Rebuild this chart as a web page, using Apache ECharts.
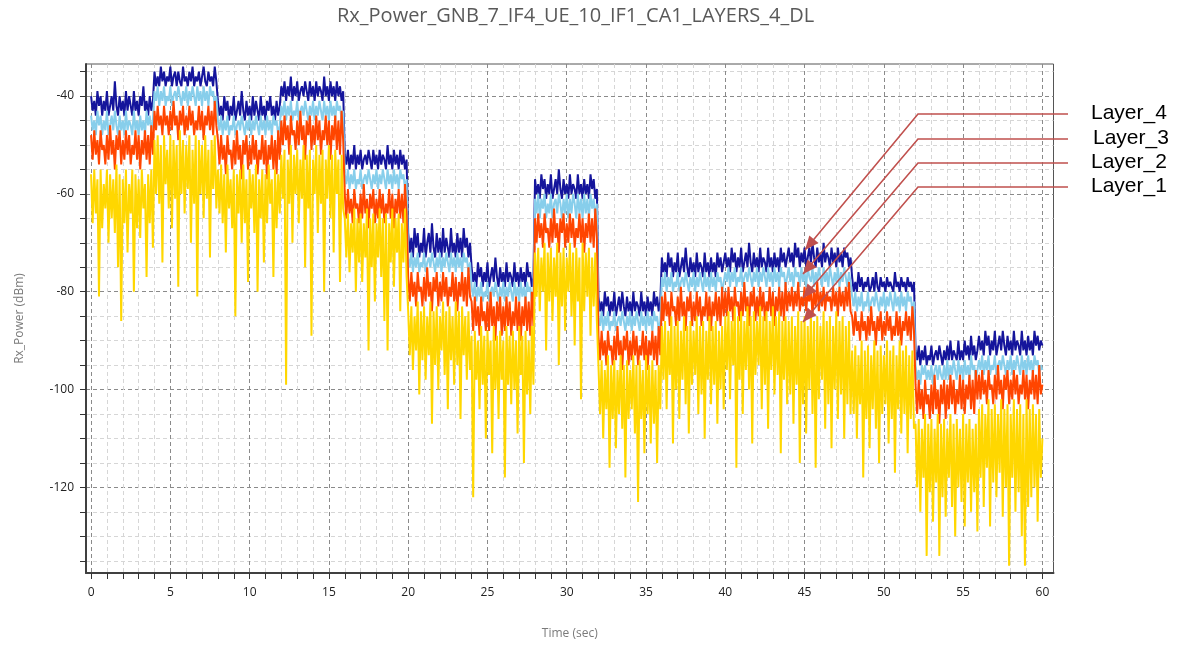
<!DOCTYPE html>
<html>
<head>
<meta charset="utf-8">
<title>Rx_Power_GNB_7_IF4_UE_10_IF1_CA1_LAYERS_4_DL</title>
<script src="https://cdn.jsdelivr.net/npm/echarts@6/dist/echarts.min.js"></script>
<style>
html, body { margin: 0; padding: 0; background: #fff; }
#chart { width: 1177px; height: 645px; }
</style>
</head>
<body>
<div id="chart"></div>
<script>
// sampling of the traces (sec)
var t0 = 0;
var dt = 0.1;

// Layer_4 (dBm), one row = 4 s
var layer4 = [
    -40,-43,-41,-44,-39,-42,-40,-44,-41,-43,-39,-44,-42,-40,-43,-37,-42,-44,-40,-43,-41,-44,-39,-43,-40,-42,-44,-39,-43,-41,-44,-40,-42,-38,-43,-41,-44,-40,-43,-41,
    -35,-38,-36,-38,-34,-37,-35,-38,-36,-37,-34,-38,-36,-35,-38,-35,-37,-38,-34,-37,-36,-38,-35,-37,-34,-38,-36,-37,-35,-38,-36,-34,-37,-38,-35,-37,-36,-38,-34,-37,
    -41,-44,-42,-45,-40,-43,-41,-45,-42,-44,-40,-45,-43,-41,-44,-39,-43,-45,-41,-44,-42,-45,-40,-44,-41,-43,-45,-40,-44,-42,-45,-41,-43,-40,-44,-42,-45,-41,-44,-42,
    -38,-40,-37,-41,-38,-40,-36,-41,-38,-40,-37,-41,-39,-38,-40,-37,-39,-41,-37,-40,-38,-41,-37,-40,-38,-39,-41,-36,-40,-38,-41,-37,-40,-38,-41,-37,-40,-38,-41,-39,
    -52,-54,-51,-55,-52,-54,-50,-55,-52,-54,-51,-55,-53,-52,-54,-51,-53,-55,-51,-54,-52,-55,-51,-54,-52,-53,-55,-50,-54,-52,-55,-51,-54,-52,-55,-51,-54,-52,-55,-53,
    -68,-72,-69,-73,-67,-71,-68,-73,-70,-72,-67,-73,-70,-68,-72,-66,-71,-73,-68,-72,-69,-73,-67,-72,-69,-71,-73,-67,-72,-70,-73,-68,-72,-69,-73,-67,-71,-69,-73,-70,
    -75,-78,-76,-79,-74,-77,-75,-79,-76,-78,-74,-79,-77,-75,-78,-73,-77,-79,-75,-78,-76,-79,-74,-78,-76,-77,-79,-74,-78,-76,-79,-75,-78,-76,-79,-74,-77,-76,-79,-77,
    -57,-60,-58,-61,-56,-59,-57,-61,-58,-60,-56,-61,-59,-57,-60,-55,-59,-61,-57,-60,-58,-61,-56,-60,-58,-59,-61,-56,-60,-58,-61,-57,-60,-58,-61,-56,-59,-57,-61,-59,
    -81,-84,-82,-85,-80,-83,-81,-85,-82,-84,-80,-85,-83,-81,-84,-80,-83,-85,-81,-84,-82,-85,-80,-84,-82,-83,-85,-80,-84,-82,-85,-81,-84,-82,-85,-80,-83,-81,-84,-82,
    -73,-76,-74,-77,-72,-75,-73,-77,-74,-76,-72,-77,-75,-73,-76,-71,-75,-77,-73,-76,-74,-77,-72,-76,-74,-75,-77,-72,-76,-74,-77,-73,-76,-74,-77,-72,-75,-73,-76,-74,
    -72,-75,-73,-76,-71,-74,-72,-76,-73,-75,-71,-76,-74,-72,-75,-70,-74,-76,-72,-75,-73,-76,-71,-75,-73,-74,-76,-71,-75,-73,-76,-72,-75,-73,-76,-71,-74,-72,-75,-73,
    -71,-74,-72,-75,-70,-73,-71,-75,-72,-74,-71,-75,-73,-71,-74,-70,-73,-75,-71,-74,-72,-75,-70,-74,-72,-73,-75,-71,-74,-72,-75,-71,-74,-72,-75,-71,-73,-72,-75,-73,
    -77,-80,-78,-80,-76,-79,-77,-80,-78,-79,-77,-80,-79,-77,-80,-76,-79,-80,-77,-79,-78,-80,-77,-79,-78,-79,-80,-76,-79,-78,-80,-77,-79,-78,-80,-77,-79,-78,-80,-78,
    -92,-94,-91,-95,-92,-94,-91,-95,-93,-94,-91,-95,-93,-92,-94,-91,-93,-95,-92,-94,-91,-94,-90,-94,-92,-93,-94,-90,-94,-92,-94,-90,-93,-91,-94,-89,-93,-91,-94,-92,
    -89,-92,-90,-93,-88,-91,-89,-93,-90,-92,-88,-93,-91,-89,-92,-88,-91,-93,-89,-92,-90,-93,-88,-92,-90,-91,-93,-88,-92,-90,-93,-89,-92,-90,-93,-88,-91,-89,-92,-90,-91
];

// Layer_3
var layer3 = [
    -44,-47,-45,-48,-43,-46,-44,-48,-45,-47,-43,-48,-46,-44,-47,-43,-46,-48,-44,-47,-45,-48,-43,-47,-45,-46,-48,-43,-47,-45,-48,-44,-47,-45,-48,-43,-46,-44,-47,-45,
    -39,-41,-38,-42,-39,-41,-38,-42,-40,-41,-38,-42,-40,-39,-41,-38,-40,-42,-39,-41,-38,-42,-39,-41,-38,-40,-42,-38,-41,-39,-42,-38,-41,-39,-42,-38,-40,-39,-42,-40,
    -45,-47,-44,-48,-45,-47,-44,-48,-46,-47,-44,-48,-46,-45,-47,-44,-46,-48,-45,-47,-44,-48,-45,-47,-44,-46,-48,-44,-47,-45,-48,-44,-47,-45,-48,-44,-46,-45,-48,-46,
    -42,-44,-41,-45,-42,-44,-41,-45,-43,-44,-41,-45,-43,-42,-44,-41,-43,-45,-42,-44,-41,-45,-42,-44,-41,-43,-45,-41,-44,-42,-45,-41,-44,-42,-45,-41,-43,-42,-45,-43,
    -56,-58,-55,-59,-56,-58,-55,-59,-57,-58,-55,-59,-57,-56,-58,-55,-57,-59,-56,-58,-55,-59,-56,-58,-55,-57,-59,-55,-58,-56,-59,-55,-58,-56,-59,-55,-57,-56,-59,-57,
    -73,-75,-72,-76,-73,-75,-72,-76,-74,-75,-72,-76,-74,-73,-75,-72,-74,-76,-73,-75,-72,-76,-73,-75,-72,-74,-76,-72,-75,-73,-76,-72,-75,-73,-76,-72,-74,-73,-76,-74,
    -79,-81,-78,-82,-79,-81,-78,-82,-80,-81,-78,-82,-80,-79,-81,-78,-80,-82,-79,-81,-78,-82,-79,-81,-78,-80,-82,-78,-81,-79,-82,-78,-81,-79,-82,-78,-80,-79,-82,-80,
    -61,-64,-60,-65,-61,-63,-60,-65,-62,-64,-60,-65,-62,-61,-64,-60,-62,-65,-61,-64,-60,-65,-61,-64,-60,-62,-65,-60,-64,-61,-65,-60,-64,-61,-65,-60,-63,-61,-65,-62,
    -85,-87,-84,-88,-85,-87,-84,-88,-86,-87,-84,-88,-86,-85,-87,-84,-86,-88,-85,-87,-84,-88,-85,-87,-84,-86,-88,-84,-87,-85,-88,-84,-87,-85,-88,-84,-86,-85,-88,-86,
    -77,-79,-76,-80,-77,-79,-76,-80,-78,-79,-76,-80,-78,-77,-79,-76,-78,-80,-77,-79,-76,-80,-77,-79,-76,-78,-80,-76,-79,-77,-80,-76,-79,-77,-80,-76,-78,-77,-80,-78,
    -76,-78,-75,-79,-76,-78,-75,-79,-77,-78,-75,-79,-77,-76,-78,-75,-77,-79,-76,-78,-75,-79,-76,-78,-75,-77,-79,-75,-78,-76,-79,-75,-78,-76,-79,-75,-77,-76,-79,-77,
    -75,-78,-76,-79,-75,-77,-76,-79,-75,-78,-76,-79,-75,-77,-78,-75,-79,-76,-78,-75,-77,-79,-75,-78,-76,-79,-75,-77,-79,-76,-78,-75,-79,-76,-78,-75,-77,-79,-76,-78,
    -81,-83,-80,-84,-81,-83,-80,-84,-82,-83,-80,-84,-82,-81,-83,-80,-82,-84,-81,-83,-80,-84,-81,-83,-80,-82,-84,-80,-83,-81,-84,-80,-83,-81,-84,-80,-82,-81,-84,-82,
    -95,-98,-96,-99,-95,-97,-95,-98,-96,-98,-95,-99,-96,-95,-98,-95,-97,-98,-95,-98,-94,-98,-95,-97,-94,-96,-98,-94,-97,-95,-98,-94,-97,-95,-98,-93,-96,-95,-98,-96,
    -94,-96,-93,-97,-94,-96,-93,-97,-95,-96,-93,-97,-95,-94,-96,-93,-95,-97,-94,-96,-93,-97,-94,-96,-93,-95,-97,-93,-96,-94,-97,-93,-96,-94,-97,-93,-95,-94,-97,-95,-96
];

// Layer_2
var layer2 = [
    -48,-53,-47,-52,-49,-54,-47,-51,-50,-54,-48,-53,-46,-52,-49,-55,-48,-51,-47,-54,-49,-53,-47,-52,-48,-54,-50,-52,-47,-53,-48,-55,-49,-52,-47,-53,-48,-54,-46,-52,
    -43,-47,-42,-46,-44,-48,-42,-46,-44,-48,-43,-47,-41,-46,-44,-49,-43,-46,-42,-48,-44,-47,-42,-46,-43,-48,-45,-47,-42,-47,-43,-49,-44,-46,-42,-47,-43,-48,-41,-46,
    -49,-54,-48,-53,-50,-56,-48,-52,-51,-55,-49,-54,-47,-53,-50,-57,-49,-52,-48,-55,-50,-54,-48,-53,-49,-56,-51,-53,-48,-54,-49,-57,-50,-53,-48,-55,-49,-56,-47,-53,
    -45,-50,-44,-49,-46,-52,-44,-48,-47,-51,-45,-50,-43,-49,-46,-53,-45,-48,-44,-51,-46,-50,-44,-49,-45,-52,-47,-49,-44,-50,-45,-53,-46,-49,-44,-51,-45,-52,-43,-49,
    -60,-65,-59,-64,-61,-66,-59,-63,-62,-66,-60,-65,-58,-64,-61,-67,-60,-63,-59,-66,-61,-65,-59,-64,-60,-66,-62,-64,-59,-65,-60,-67,-61,-64,-59,-65,-60,-66,-58,-64,
    -77,-82,-76,-81,-78,-83,-76,-80,-79,-83,-77,-82,-75,-81,-78,-84,-77,-80,-76,-83,-78,-82,-76,-81,-77,-83,-79,-81,-76,-82,-77,-84,-78,-81,-76,-82,-77,-83,-75,-81,
    -82,-88,-81,-87,-83,-89,-81,-86,-84,-88,-82,-88,-80,-87,-83,-90,-82,-86,-81,-89,-83,-88,-81,-87,-82,-89,-84,-87,-81,-88,-82,-90,-83,-87,-81,-88,-82,-89,-80,-87,
    -65,-70,-64,-69,-66,-71,-64,-68,-67,-71,-65,-70,-63,-69,-66,-72,-65,-68,-64,-71,-66,-70,-64,-69,-65,-71,-67,-69,-64,-70,-65,-72,-66,-69,-64,-70,-65,-71,-63,-69,
    -89,-94,-88,-93,-90,-95,-88,-92,-91,-95,-89,-94,-87,-93,-90,-96,-89,-92,-88,-95,-90,-94,-88,-93,-89,-95,-91,-93,-88,-94,-89,-96,-90,-93,-88,-94,-89,-95,-87,-93,
    -81,-86,-80,-85,-82,-87,-80,-84,-83,-87,-81,-86,-79,-85,-82,-88,-81,-84,-80,-87,-82,-86,-80,-85,-81,-87,-83,-85,-80,-86,-81,-88,-82,-85,-80,-86,-81,-87,-79,-85,
    -80,-85,-79,-84,-81,-86,-79,-83,-82,-86,-80,-85,-78,-84,-81,-87,-80,-83,-79,-86,-81,-85,-79,-84,-80,-86,-82,-84,-79,-85,-80,-87,-81,-84,-79,-85,-80,-86,-78,-84,
    -80,-83,-79,-84,-80,-83,-78,-84,-81,-83,-79,-84,-80,-82,-79,-85,-80,-83,-78,-84,-80,-83,-79,-84,-80,-82,-81,-84,-79,-83,-80,-85,-79,-83,-80,-84,-79,-83,-78,-84,
    -85,-89,-84,-88,-86,-90,-84,-88,-86,-90,-85,-89,-83,-88,-86,-91,-85,-88,-84,-90,-86,-89,-84,-88,-85,-90,-87,-89,-84,-89,-85,-91,-86,-88,-84,-89,-85,-90,-83,-88,
    -99,-105,-98,-104,-100,-106,-98,-103,-101,-106,-99,-105,-97,-104,-100,-107,-99,-103,-98,-106,-99,-104,-97,-103,-98,-105,-100,-103,-97,-104,-98,-105,-99,-102,-97,-104,-98,-105,-96,-102,
    -97,-102,-96,-101,-98,-103,-96,-100,-99,-103,-97,-102,-95,-101,-98,-104,-97,-100,-96,-103,-98,-102,-96,-101,-97,-103,-99,-101,-96,-102,-97,-104,-98,-101,-96,-102,-97,-103,-95,-101,-99
];

// Layer_1
var layer1 = [
    -56,-66,-55,-64,-57,-81,-55,-67,-58,-63,-55,-70,-56,-65,-57,-68,-54,-75,-56,-86,-57,-66,-55,-72,-58,-64,-55,-80,-56,-67,-57,-69,-55,-63,-58,-77,-56,-66,-55,-71,
    -49,-60,-48,-62,-50,-74,-48,-58,-51,-63,-48,-67,-49,-61,-50,-79,-47,-60,-49,-64,-50,-59,-48,-70,-51,-62,-48,-81,-49,-60,-50,-65,-48,-61,-51,-73,-49,-59,-48,-63,
    -55,-64,-54,-66,-56,-72,-54,-63,-57,-67,-55,-85,-56,-64,-55,-70,-54,-66,-57,-78,-55,-63,-56,-68,-54,-80,-57,-65,-55,-74,-56,-66,-54,-62,-57,-77,-55,-67,-56,-64,
    -52,-61,-51,-99,-53,-62,-50,-70,-52,-60,-51,-66,-53,-61,-50,-75,-52,-63,-51,-89,-53,-60,-50,-68,-52,-62,-51,-80,-53,-61,-50,-65,-52,-72,-51,-60,-53,-78,-52,-63,
    -65,-73,-64,-76,-66,-72,-63,-80,-65,-74,-64,-78,-66,-73,-63,-92,-65,-75,-64,-82,-66,-73,-63,-77,-65,-86,-64,-92,-66,-74,-63,-79,-65,-72,-64,-84,-66,-74,-63,-77,
    -84,-93,-83,-96,-85,-92,-82,-101,-84,-94,-83,-98,-85,-93,-82,-107,-84,-95,-83,-100,-85,-92,-82,-97,-84,-104,-83,-94,-85,-99,-82,-95,-84,-106,-83,-93,-85,-98,-84,-96,
    -89,-122,-88,-98,-90,-104,-87,-99,-89,-110,-88,-97,-90,-113,-87,-100,-89,-106,-88,-98,-90,-118,-87,-99,-89,-103,-88,-100,-90,-109,-87,-97,-89,-115,-88,-101,-90,-105,-87,-99,
    -72,-81,-71,-84,-73,-80,-70,-92,-72,-82,-71,-86,-73,-81,-70,-95,-72,-83,-71,-88,-73,-80,-70,-85,-72,-91,-71,-82,-73,-102,-70,-84,-72,-81,-71,-89,-73,-83,-72,-86,
    -95,-105,-94,-110,-96,-104,-93,-116,-95,-106,-94,-112,-96,-105,-93,-108,-95,-118,-94,-106,-96,-104,-93,-109,-95,-123,-94,-106,-96,-113,-93,-105,-95,-111,-94,-107,-96,-115,-95,-104,
    -87,-98,-86,-104,-88,-97,-85,-111,-87,-100,-86,-106,-88,-98,-85,-103,-87,-109,-86,-99,-88,-97,-85,-105,-87,-101,-86,-110,-88,-98,-85,-103,-87,-99,-86,-107,-88,-100,-87,-104,
    -85,-96,-84,-102,-86,-95,-83,-116,-85,-98,-84,-105,-86,-96,-83,-100,-85,-111,-84,-97,-86,-95,-83,-104,-85,-99,-84,-108,-86,-96,-83,-101,-85,-97,-84,-113,-86,-98,-85,-103,
    -86,-101,-85,-107,-87,-99,-84,-115,-86,-103,-85,-109,-87,-100,-84,-105,-86,-116,-85,-102,-87,-98,-84,-108,-86,-103,-85,-112,-87,-100,-84,-106,-86,-101,-85,-110,-87,-103,-86,-105,
    -92,-105,-91,-110,-93,-103,-90,-118,-92,-106,-91,-112,-93,-104,-90,-108,-92,-115,-91,-105,-93,-103,-90,-111,-92,-106,-91,-117,-93,-104,-90,-109,-92,-105,-91,-113,-93,-106,-92,-108,
    -107,-120,-106,-125,-108,-118,-105,-134,-107,-121,-106,-127,-108,-119,-105,-134,-107,-122,-106,-126,-108,-118,-105,-124,-107,-130,-106,-120,-108,-123,-105,-128,-107,-119,-106,-125,-108,-121,-107,-129,
    -104,-118,-103,-124,-105,-116,-102,-128,-104,-119,-103,-122,-105,-117,-102,-126,-104,-120,-103,-136,-105,-118,-102,-125,-104,-121,-103,-130,-105,-136,-102,-124,-104,-122,-103,-120,-105,-127,-104,-118,-110
];

var layerNames = ["Layer_4", "Layer_3", "Layer_2", "Layer_1"];
var layerColors = ["#15159c", "#87ceeb", "#ff4500", "#ffd700"];

var xTicks = [0,1,2,3,4,5,6,7,8,9,10,11,12,13,14,15,16,17,18,19,20,21,22,23,24,25,26,27,28,29,30,
    31,32,33,34,35,36,37,38,39,40,41,42,43,44,45,46,47,48,49,50,51,52,53,54,55,56,57,58,59,60];
var xLabels = [0,5,10,15,20,25,30,35,40,45,50,55,60];
var yTicks = [-135,-130,-125,-120,-115,-110,-105,-100,-95,-90,-85,-80,-75,-70,-65,-60,-55,-50,-45,-40,-35];
var yLabels = [-120,-100,-80,-60,-40];

function toPoints(vals) {
    return vals.map(function (v, i) {
        return [t0 + i * dt, v];
    });
}

// annotation arrow head (pixel geometry)
function arrowHead(from, tip) {
    var dx = tip[0] - from[0], dy = tip[1] - from[1];
    var len = Math.sqrt(dx * dx + dy * dy);
    var ux = dx / len, uy = dy / len;
    var bx = tip[0] - ux * 14, by = tip[1] - uy * 14;
    return [tip, [bx - uy * 6, by + ux * 6], [bx + uy * 6, by - ux * 6]];
}

var callouts = [
    { y: 114, textX: 1091, tip: [805, 250] },
    { y: 139, textX: 1093, tip: [803, 274] },
    { y: 163, textX: 1091, tip: [803, 298] },
    { y: 187, textX: 1091, tip: [803, 322] }
];

var graphics = [];
callouts.forEach(function (c, i) {
    var corner = [918, c.y];
    graphics.push({
        type: "polyline",
        shape: { points: [[1068, c.y], corner, c.tip] },
        style: { stroke: "#c0504d", lineWidth: 1.6, fill: null },
        z: 100
    });
    graphics.push({
        type: "polygon",
        shape: { points: arrowHead(corner, c.tip) },
        style: { fill: "#c0504d" },
        z: 100
    });
    graphics.push({
        type: "text",
        x: c.textX,
        y: c.y - 1,
        style: {
            text: layerNames[i],
            font: "21px 'Liberation Sans', Arial, sans-serif",
            fill: "#000",
            verticalAlign: "middle"
        },
        z: 100
    });
});

var minor = "#d6d6d6";
var major = "#8a8a8a";

var chart = echarts.init(document.getElementById("chart"));
chart.setOption({
    animation: false,
    title: {
        text: "Rx_Power_GNB_7_IF4_UE_10_IF1_CA1_LAYERS_4_DL",
        left: 332,
        top: 1,
        textStyle: {
            fontFamily: "'Open Sans', sans-serif",
            fontSize: 20,
            fontWeight: "normal",
            color: "#595959"
        }
    },
    grid: {
        left: 86,
        right: 123.5,
        top: 64,
        bottom: 72,
        show: true,
        borderColor: "#555",
        borderWidth: 1,
        outerBoundsMode: "none"
    },
    xAxis: {
        type: "value",
        min: -0.32,
        max: 60.7,
        name: "Time (sec)",
        nameLocation: "middle",
        nameGap: 55,
        nameTextStyle: { fontFamily: "'Open Sans', sans-serif", fontSize: 12, color: "#7a7a7a" },
        axisLine: { show: true, onZero: false, lineStyle: { color: "#404040", width: 2 } },
        axisTick: { show: true, customValues: xTicks, length: 6, lineStyle: { color: "#333" } },
        axisLabel: {
            customValues: xLabels,
            margin: 14,
            fontFamily: "'Open Sans', sans-serif",
            fontSize: 12,
            color: "#222"
        },
        splitLine: {
            show: true,
            lineStyle: { color: [major, minor, minor, minor, minor], type: [4, 3], width: 1 }
        }
    },
    yAxis: {
        type: "value",
        min: -137.5,
        max: -33.45,
        name: "Rx_Power (dBm)",
        nameLocation: "middle",
        nameGap: 60,
        nameTextStyle: { fontFamily: "'Open Sans', sans-serif", fontSize: 12, color: "#7a7a7a" },
        axisLine: { show: true, onZero: false, lineStyle: { color: "#404040", width: 2 } },
        axisTick: { show: true, customValues: yTicks, length: 6, lineStyle: { color: "#333" } },
        axisLabel: {
            customValues: yLabels,
            margin: 12,
            fontFamily: "'Open Sans', sans-serif",
            fontSize: 12,
            color: "#222"
        },
        splitLine: {
            show: true,
            lineStyle: { color: [minor, minor, minor, major], type: [4, 3], width: 1 }
        }
    },
    series: [
        { name: "Layer_4", data: toPoints(layer4) },
        { name: "Layer_3", data: toPoints(layer3) },
        { name: "Layer_2", data: toPoints(layer2) },
        { name: "Layer_1", data: toPoints(layer1) }
    ].map(function (s, i) {
        return {
            name: s.name,
            type: "line",
            data: s.data,
            symbol: "none",
            lineStyle: { color: layerColors[i], width: 2 },
            itemStyle: { color: layerColors[i] },
            z: 2 + i
        };
    }),
    graphic: graphics
});
</script>
</body>
</html>
